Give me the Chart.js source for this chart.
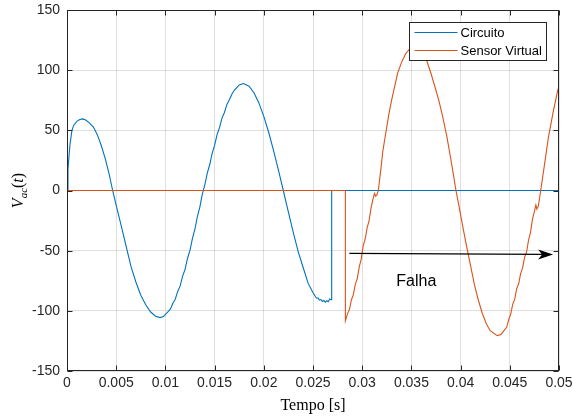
<!DOCTYPE html>
<html>
<head>
<meta charset="utf-8">
<script src="https://cdn.jsdelivr.net/npm/chart.js@4/dist/chart.umd.min.js"></script>
<style>
  html, body { margin: 0; padding: 0; background: #ffffff; }
  #wrap { width: 573px; height: 416px; }
</style>
</head>
<body>
<div id="wrap"><canvas id="c" width="573" height="416"></canvas></div>
<script>
// Time axis ticks (seconds) and their labels
const xTicks = [0, 0.005, 0.01, 0.015, 0.02, 0.025, 0.03, 0.035, 0.04, 0.045, 0.05];
const xTickLabels = ['0', '0.005', '0.01', '0.015', '0.02', '0.025', '0.03', '0.035', '0.04', '0.045', '0.05'];
const yTicks = [-150, -100, -50, 0, 50, 100, 150];
const yTickLabels = ['-150', '-100', '-50', '0', '50', '100', '150'];

// Circuit voltage: time [s] and value
const circuitoT = [0, 0.0001, 0.0003, 0.0005, 0.0007, 0.001, 0.0013, 0.0016, 0.0019, 0.0023,
  0.0027, 0.0031, 0.0035, 0.0039, 0.0043, 0.00464, 0.005, 0.0055, 0.006, 0.0065,
  0.007, 0.0075, 0.008, 0.0085, 0.009, 0.00945, 0.0098, 0.01025, 0.0105, 0.01075,
  0.011, 0.01125, 0.0115, 0.01175, 0.012, 0.01225, 0.0125, 0.01275, 0.013, 0.01325,
  0.0135, 0.01375, 0.014, 0.01425, 0.0145, 0.01475, 0.015, 0.01525, 0.0155, 0.01575,
  0.016, 0.01625, 0.0165, 0.01675, 0.017, 0.0175, 0.01792, 0.0185, 0.019, 0.0195,
  0.02, 0.0205, 0.021, 0.0215, 0.02198, 0.0225, 0.023, 0.0235, 0.024, 0.0245,
  0.025, 0.0252, 0.02535, 0.0255, 0.02565, 0.0258, 0.02595, 0.0261, 0.02625, 0.0264,
  0.02655, 0.0267, 0.02685, 0.0269, 0.0269, 0.05];
const circuitoV = [0, 18, 38, 50, 54.5, 57.5, 59, 59.5, 58.5, 56,
  52.5, 46, 37, 26, 13, 0, -12.4, -29, -46, -63,
  -76, -87, -95, -101, -104.5, -105.6, -104.8, -100.9, -98.6, -93.9,
  -90.4, -83.9, -79.3, -71.2, -65.5, -56.3, -49.6, -39.7, -32.2, -21.7,
  -13.8, -3.1, 4.5, 14.3, 21.4, 30.9, 37.5, 46.4, 52.2, 60.2,
  64.8, 71.5, 75.4, 80.0, 83.3, 87.7, 88.9, 86.7, 81.2, 72.8,
  61.6, 48.2, 32.9, 16.5, 0, -18, -35, -51, -64, -77,
  -85, -87.5, -89.5, -89.2, -91.0, -90.6, -92.2, -91.4, -92.8, -91.6,
  -92.4, -90.2, -90.8, -88.5, 0, 0];

// Virtual sensor output: time [s] and value
const sensorT = [0, 0.02829, 0.02829, 0.0285, 0.0287, 0.0289, 0.0291, 0.0293, 0.0295, 0.0297,
  0.0299, 0.0301, 0.0303, 0.0305, 0.0307, 0.0309, 0.0311, 0.03125, 0.03137, 0.0315,
  0.03164, 0.0319, 0.0321, 0.0324, 0.0327, 0.033, 0.0333, 0.0336, 0.034, 0.0344,
  0.0348, 0.0352, 0.0356, 0.036, 0.0366, 0.037, 0.0374, 0.0378, 0.0382, 0.0386,
  0.039, 0.0393, 0.03953, 0.0398, 0.0402, 0.0406, 0.041, 0.0414, 0.0418, 0.0422,
  0.0426, 0.043, 0.04373, 0.0441, 0.04468, 0.0449, 0.0451, 0.0453, 0.0455, 0.0457,
  0.0459, 0.0461, 0.0463, 0.0465, 0.0467, 0.0469, 0.0471, 0.0473, 0.0475, 0.04765,
  0.04775, 0.0479, 0.04814, 0.0485, 0.04892, 0.0494, 0.04986, 0.05];
const sensorV = [0, 0, -108.3, -102.5, -99, -91, -86.5, -78, -73, -63.5,
  -57, -46, -40.5, -31, -25, -14.5, -7, -2.5, -4.8, -3.5,
  0, 18, 33, 48, 63, 75.5, 86.5, 97.5, 106.5, 113.5,
  117.5, 120, 119.5, 115.5, 107, 97, 86, 74.5, 60.6, 45,
  26.4, 11.5, 0, -11.6, -29, -46, -62, -78, -91, -102,
  -110.5, -116.5, -120.6, -119.6, -113.7, -107, -102.5, -94.5, -90.5, -81.5,
  -77.5, -69, -64.5, -55.5, -51.5, -41.5, -35, -24, -17.5, -12,
  -15.5, -13, 0, 20, 44, 65, 83, 86];

// Fault marker: arrow from start to end (data units) and its caption
const arrowStart = [0.0287, -52.3];
const arrowEnd = [0.0494, -53.2];
const faultLabel = 'Falha';
const faultLabelAt = [0.0355, -76];

const seriesNames = ['Circuito', 'Sensor Virtual'];
const seriesColors = ['#0072BD', '#D95319'];

const toPoints = (ts, vs) => ts.map((t, i) => ({ x: t, y: vs[i] }));

const AXIS = '#262626';
const SANS = '"Liberation Sans", Arial, Helvetica, sans-serif';
const SERIF = '"Liberation Serif", "Times New Roman", serif';

// Keep the plot area fixed: no extra room reserved for overhanging tick labels
const noOverhang = s => {
  s.paddingLeft = 0; s.paddingRight = 0; s.paddingTop = 0; s.paddingBottom = 0;
};

// Box, inward tick marks on all four sides
const framePlugin = {
  id: 'frame',
  afterDatasetsDraw(chart) {
    const { ctx, chartArea: a, scales: { x, y } } = chart;
    const L = Math.round(a.left) + 0.5, R = Math.round(a.right) - 0.5;
    const T = Math.round(a.top) + 0.5, B = Math.round(a.bottom) - 0.5;
    ctx.save();
    ctx.strokeStyle = AXIS;
    ctx.lineWidth = 1;
    ctx.beginPath();
    xTicks.forEach(v => {
      const px = Math.round(x.getPixelForValue(v)) + 0.5;
      ctx.moveTo(px, B); ctx.lineTo(px, B - 5);
      ctx.moveTo(px, T); ctx.lineTo(px, T + 5);
    });
    yTicks.forEach(v => {
      const py = Math.round(y.getPixelForValue(v)) + 0.5;
      ctx.moveTo(L, py); ctx.lineTo(L + 5, py);
      ctx.moveTo(R, py); ctx.lineTo(R - 5, py);
    });
    ctx.stroke();
    ctx.strokeRect(L, T, R - L, B - T);
    ctx.restore();
  }
};

// Fault arrow and caption
const faultPlugin = {
  id: 'fault',
  afterDatasetsDraw(chart) {
    const { ctx, scales: { x, y } } = chart;
    const x0 = x.getPixelForValue(arrowStart[0]), y0 = y.getPixelForValue(arrowStart[1]);
    const x1 = x.getPixelForValue(arrowEnd[0]), y1 = y.getPixelForValue(arrowEnd[1]);
    const ang = Math.atan2(y1 - y0, x1 - x0);
    ctx.save();
    ctx.strokeStyle = '#000000';
    ctx.fillStyle = '#000000';
    ctx.lineWidth = 1.3;
    ctx.beginPath();
    ctx.moveTo(x0, y0);
    ctx.lineTo(x1 - 10 * Math.cos(ang), y1 - 10 * Math.sin(ang));
    ctx.stroke();
    ctx.translate(x1, y1);
    ctx.rotate(ang);
    ctx.beginPath();
    ctx.moveTo(0, 0);
    ctx.lineTo(-15, -5);
    ctx.lineTo(-11, 0);
    ctx.lineTo(-15, 5);
    ctx.closePath();
    ctx.fill();
    ctx.restore();

    ctx.save();
    ctx.fillStyle = '#000000';
    ctx.font = '16px ' + SANS;
    ctx.textAlign = 'center';
    ctx.textBaseline = 'middle';
    ctx.fillText(faultLabel, x.getPixelForValue(faultLabelAt[0]), y.getPixelForValue(faultLabelAt[1]));
    ctx.restore();
  }
};

// Legend box in the upper right of the plot area
const legendPlugin = {
  id: 'boxLegend',
  afterDraw(chart) {
    const { ctx, chartArea: a } = chart;
    const right = Math.round(a.right) - 12.5;
    const left = right - 137;
    const top = Math.round(a.top) + 12.5;
    const h = 38;
    ctx.save();
    ctx.fillStyle = '#ffffff';
    ctx.fillRect(left, top, right - left, h);
    ctx.strokeStyle = AXIS;
    ctx.lineWidth = 1;
    ctx.strokeRect(left, top, right - left, h);
    ctx.font = '13px ' + SANS;
    ctx.textBaseline = 'middle';
    ctx.textAlign = 'left';
    chart.data.datasets.forEach((ds, i) => {
      const yy = top + 10 + i * 18;
      ctx.strokeStyle = ds.borderColor;
      ctx.lineWidth = 1;
      ctx.beginPath();
      ctx.moveTo(left + 5, yy);
      ctx.lineTo(left + 48, yy);
      ctx.stroke();
      ctx.fillStyle = '#000000';
      ctx.fillText(ds.label, left + 51, yy + 0.5);
    });
    ctx.restore();
  }
};

// Axis titles: "Tempo [s]" and V_ac(t)
const titlesPlugin = {
  id: 'titles',
  afterDraw(chart) {
    const { ctx, chartArea: a } = chart;
    ctx.save();
    ctx.fillStyle = '#000000';
    ctx.font = '16px ' + SERIF;
    ctx.textAlign = 'center';
    ctx.textBaseline = 'alphabetic';
    ctx.fillText('Tempo [s]', (a.left + a.right) / 2, 410);
    ctx.restore();

    const parts = [
      { t: 'V', f: 'italic 16px ' + SERIF, dy: 0 },
      { t: 'ac', f: 'italic 11px ' + SERIF, dy: 3.5 },
      { t: '(', f: '16px ' + SERIF, dy: 0 },
      { t: 't', f: 'italic 16px ' + SERIF, dy: 0 },
      { t: ')', f: '16px ' + SERIF, dy: 0 }
    ];
    ctx.save();
    ctx.translate(23, (a.top + a.bottom) / 2);
    ctx.rotate(-Math.PI / 2);
    ctx.fillStyle = '#000000';
    ctx.textBaseline = 'alphabetic';
    ctx.textAlign = 'left';
    let total = 0;
    parts.forEach(p => { ctx.font = p.f; p.w = ctx.measureText(p.t).width; total += p.w; });
    let cx = -total / 2;
    parts.forEach(p => { ctx.font = p.f; ctx.fillText(p.t, cx, p.dy); cx += p.w; });
    ctx.restore();
  }
};

new Chart(document.getElementById('c'), {
  type: 'line',
  data: {
    datasets: [
      { label: seriesNames[0], data: toPoints(circuitoT, circuitoV), borderColor: seriesColors[0],
        borderWidth: 1.1, pointRadius: 0, tension: 0, fill: false, order: 1 },
      { label: seriesNames[1], data: toPoints(sensorT, sensorV), borderColor: seriesColors[1],
        borderWidth: 1.1, pointRadius: 0, tension: 0, fill: false, order: 0 }
    ]
  },
  options: {
    responsive: false,
    animation: false,
    devicePixelRatio: 1,
    layout: { padding: { top: 10, right: 14, left: 0, bottom: 0 } },
    plugins: { legend: { display: false }, tooltip: { enabled: false } },
    scales: {
      x: {
        type: 'linear', min: 0, max: 0.05,
        afterBuildTicks: s => { s.ticks = xTicks.map(v => ({ value: v })); },
        afterFit: s => { s.height = 45; noOverhang(s); },
        ticks: {
          autoSkip: false, maxRotation: 0, padding: 4, color: AXIS,
          font: { family: SANS, size: 14 },
          callback: (v, i) => xTickLabels[i]
        },
        grid: { color: 'rgba(38,38,38,0.15)', drawTicks: false },
        border: { display: false }
      },
      y: {
        type: 'linear', min: -150, max: 150,
        afterBuildTicks: s => { s.ticks = yTicks.map(v => ({ value: v })); },
        afterFit: s => { s.width = 67; noOverhang(s); },
        ticks: {
          autoSkip: false, padding: 7, color: AXIS,
          font: { family: SANS, size: 14 },
          callback: (v, i) => yTickLabels[i]
        },
        grid: { color: 'rgba(38,38,38,0.15)', drawTicks: false },
        border: { display: false }
      }
    }
  },
  plugins: [framePlugin, faultPlugin, legendPlugin, titlesPlugin]
});
</script>
</body>
</html>
